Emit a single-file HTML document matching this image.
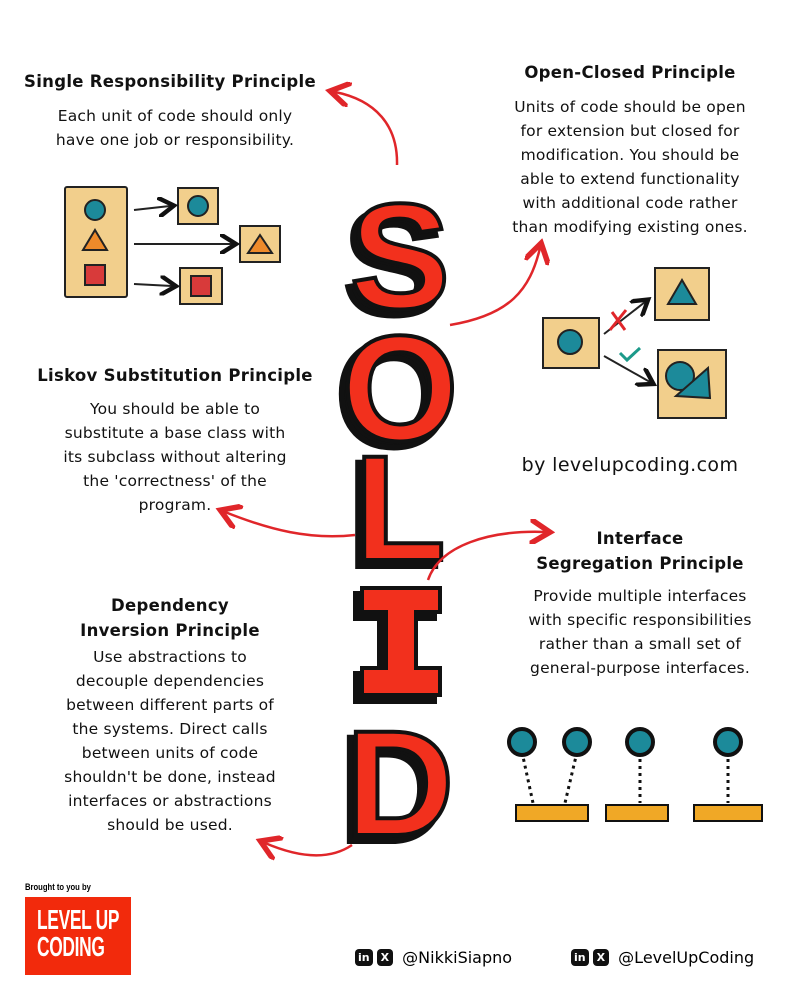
<!DOCTYPE html>
<html><head><meta charset="utf-8"><style>
body{margin:0;background:#fff;}
.c{position:relative;width:800px;height:1000px;overflow:hidden;font-family:"Liberation Sans",sans-serif;}
.t{position:absolute;text-align:center;font-family:"DejaVu Sans","Liberation Sans",sans-serif;color:#111;}
.h{font-weight:bold;font-size:16.5px;letter-spacing:0.3px;}
.p{font-size:15.5px;line-height:24px;letter-spacing:0.2px;}
</style></head><body><div class="c">
<svg width="800" height="1000" style="position:absolute;left:0;top:0">
<defs><marker id="a" markerWidth="10" markerHeight="10" refX="6" refY="5" orient="auto"><path d="M0,0 L8,5 L0,10" fill="none" stroke="#e0262a" stroke-width="2.2"/></marker>
<marker id="k" markerWidth="10" markerHeight="10" refX="6" refY="5" orient="auto"><path d="M0,0 L8,5 L0,10" fill="none" stroke="#111" stroke-width="2.2"/></marker></defs>
<g font-family="Liberation Sans" font-weight="bold" font-size="150" text-anchor="middle">
<g fill="#111" stroke="#111" stroke-width="6" transform="translate(-6,6)">
<text x="400" y="308">S</text><text x="400" y="440">O</text><text x="400" y="560">L</text><text x="400" y="835">D</text>
<path d="M362,588 H440 V612 H416 V668 H440 V695 H362 V668 H386 V612 H362Z"/></g>
<g fill="#f2301d" stroke="#111" stroke-width="4">
<text x="400" y="308">S</text><text x="400" y="440">O</text><text x="400" y="560">L</text><text x="400" y="835">D</text>
<path d="M362,588 H440 V612 H416 V668 H440 V695 H362 V668 H386 V612 H362Z"/></g></g>
<g fill="none" stroke="#e0262a" stroke-width="2.5">
<path d="M397,165 C398,125 375,100 335,92" marker-end="url(#a)"/>
<path d="M450,325 C510,315 530,290 540,248" marker-end="url(#a)"/>
<path d="M355,535 C310,540 270,530 225,512" marker-end="url(#a)"/>
<path d="M428,580 C440,545 490,530 545,532" marker-end="url(#a)"/>
<path d="M352,845 C330,860 300,858 265,843" marker-end="url(#a)"/>
</g>
<g stroke="#222" stroke-width="2">
<rect x="65" y="187" width="62" height="110" fill="#f2cf8c" rx="2"/>
<circle cx="95" cy="210" r="10" fill="#1c8a9a"/>
<path d="M95,230 L107,250 L83,250Z" fill="#ee8a2a"/>
<rect x="85" y="265" width="20" height="20" fill="#d83a3a"/>
<rect x="178" y="188" width="40" height="36" fill="#f2cf8c"/><circle cx="198" cy="206" r="10" fill="#1c8a9a"/>
<rect x="240" y="226" width="40" height="36" fill="#f2cf8c"/><path d="M260,235 L272,253 L248,253Z" fill="#ee8a2a"/>
<rect x="180" y="268" width="42" height="36" fill="#f2cf8c"/><rect x="191" y="276" width="20" height="20" fill="#d83a3a"/>
<path d="M134,210 L170,206" marker-end="url(#k)" fill="none"/>
<path d="M134,244 L232,244" marker-end="url(#k)" fill="none"/>
<path d="M134,284 L172,286" marker-end="url(#k)" fill="none"/>
<rect x="543" y="318" width="56" height="50" fill="#f2cf8c"/><circle cx="570" cy="342" r="12" fill="#1c8a9a"/>
<rect x="655" y="268" width="54" height="52" fill="#f2cf8c"/><path d="M682,280 L696,304 L668,304Z" fill="#1c8a9a"/>
<rect x="658" y="350" width="68" height="68" fill="#f2cf8c"/><circle cx="680" cy="376" r="14" fill="#1c8a9a"/><path d="M676,396 L708,368 L710,398Z" fill="#1c8a9a"/>
<path d="M604,334 L645,302" marker-end="url(#k)" fill="none"/>
<path d="M604,356 L650,382" marker-end="url(#k)" fill="none"/>
<path d="M612,312 L625,330 M626,310 L610,330" stroke="#e0262a" stroke-width="3"/>
<path d="M620,353 L627,360 L640,348" stroke="#1c9a8a" stroke-width="3" fill="none"/>
</g>
<g stroke="#111" stroke-width="2">
<g stroke-dasharray="3,4" stroke-width="3"><path d="M522,752 L533,803 M577,752 L565,803 M640,752 L640,803 M728,752 L728,803"/></g>
<circle cx="522" cy="742" r="13" fill="#1c8a9a" stroke-width="4"/><circle cx="577" cy="742" r="13" fill="#1c8a9a" stroke-width="4"/>
<circle cx="640" cy="742" r="13" fill="#1c8a9a" stroke-width="4"/><circle cx="728" cy="742" r="13" fill="#1c8a9a" stroke-width="4"/>
<rect x="516" y="805" width="72" height="16" fill="#f0a826"/><rect x="606" y="805" width="62" height="16" fill="#f0a826"/><rect x="694" y="805" width="68" height="16" fill="#f0a826"/>
</g>
</svg>
<div class="t h" style="left:10px;top:72px;width:320px">Single Responsibility Principle</div>
<div class="t p" style="left:10px;top:104px;width:330px">Each unit of code should only<br>have one job or responsibility.</div>
<div class="t h" style="left:480px;top:63px;width:300px">Open-Closed Principle</div>
<div class="t p" style="left:470px;top:95px;width:320px">Units of code should be open<br>for extension but closed for<br>modification. You should be<br>able to extend functionality<br>with additional code rather<br>than modifying existing ones.</div>
<div class="t h" style="left:10px;top:366px;width:330px">Liskov Substitution Principle</div>
<div class="t p" style="left:10px;top:397px;width:330px">You should be able to<br>substitute a base class with<br>its subclass without altering<br>the 'correctness' of the<br>program.</div>
<div class="t" style="left:480px;top:454px;width:300px;font-size:19px;font-family:'DejaVu Sans',sans-serif;letter-spacing:0.4px">by levelupcoding.com</div>
<div class="t h" style="left:490px;top:526px;width:300px;line-height:25px">Interface<br>Segregation Principle</div>
<div class="t p" style="left:480px;top:584px;width:320px">Provide multiple interfaces<br>with specific responsibilities<br>rather than a small set of<br>general-purpose interfaces.</div>
<div class="t h" style="left:20px;top:593px;width:300px;line-height:25px">Dependency<br>Inversion Principle</div>
<div class="t p" style="left:10px;top:645px;width:320px">Use abstractions to<br>decouple dependencies<br>between different parts of<br>the systems. Direct calls<br>between units of code<br>shouldn't be done, instead<br>interfaces or abstractions<br>should be used.</div>
<div style="position:absolute;left:25px;top:882px;font-size:9px;font-weight:bold;transform:scaleX(0.85);transform-origin:left">Brought to you by</div>
<div style="position:absolute;left:25px;top:897px;width:106px;height:78px;background:#f22a0c;"></div>
<div style="position:absolute;left:37px;top:906px;color:#fff;font-weight:bold;font-size:28px;line-height:27px;white-space:nowrap;transform:scaleX(0.62);transform-origin:left top;letter-spacing:-0.5px">LEVEL UP<br>CODING</div>
<div style="position:absolute;left:355px;top:948px;font-size:16px;font-family:'DejaVu Sans',sans-serif;display:flex;align-items:center;gap:4px">
<span style="background:#111;color:#fff;border-radius:4px;font-size:11px;font-weight:bold;padding:2px 3px">in</span><span style="background:#111;color:#fff;border-radius:4px;font-size:11px;font-weight:bold;padding:2px 4px">X</span>&nbsp;@NikkiSiapno</div>
<div style="position:absolute;left:571px;top:948px;font-size:16px;font-family:'DejaVu Sans',sans-serif;display:flex;align-items:center;gap:4px">
<span style="background:#111;color:#fff;border-radius:4px;font-size:11px;font-weight:bold;padding:2px 3px">in</span><span style="background:#111;color:#fff;border-radius:4px;font-size:11px;font-weight:bold;padding:2px 4px">X</span>&nbsp;@LevelUpCoding</div>
</div></body></html>
